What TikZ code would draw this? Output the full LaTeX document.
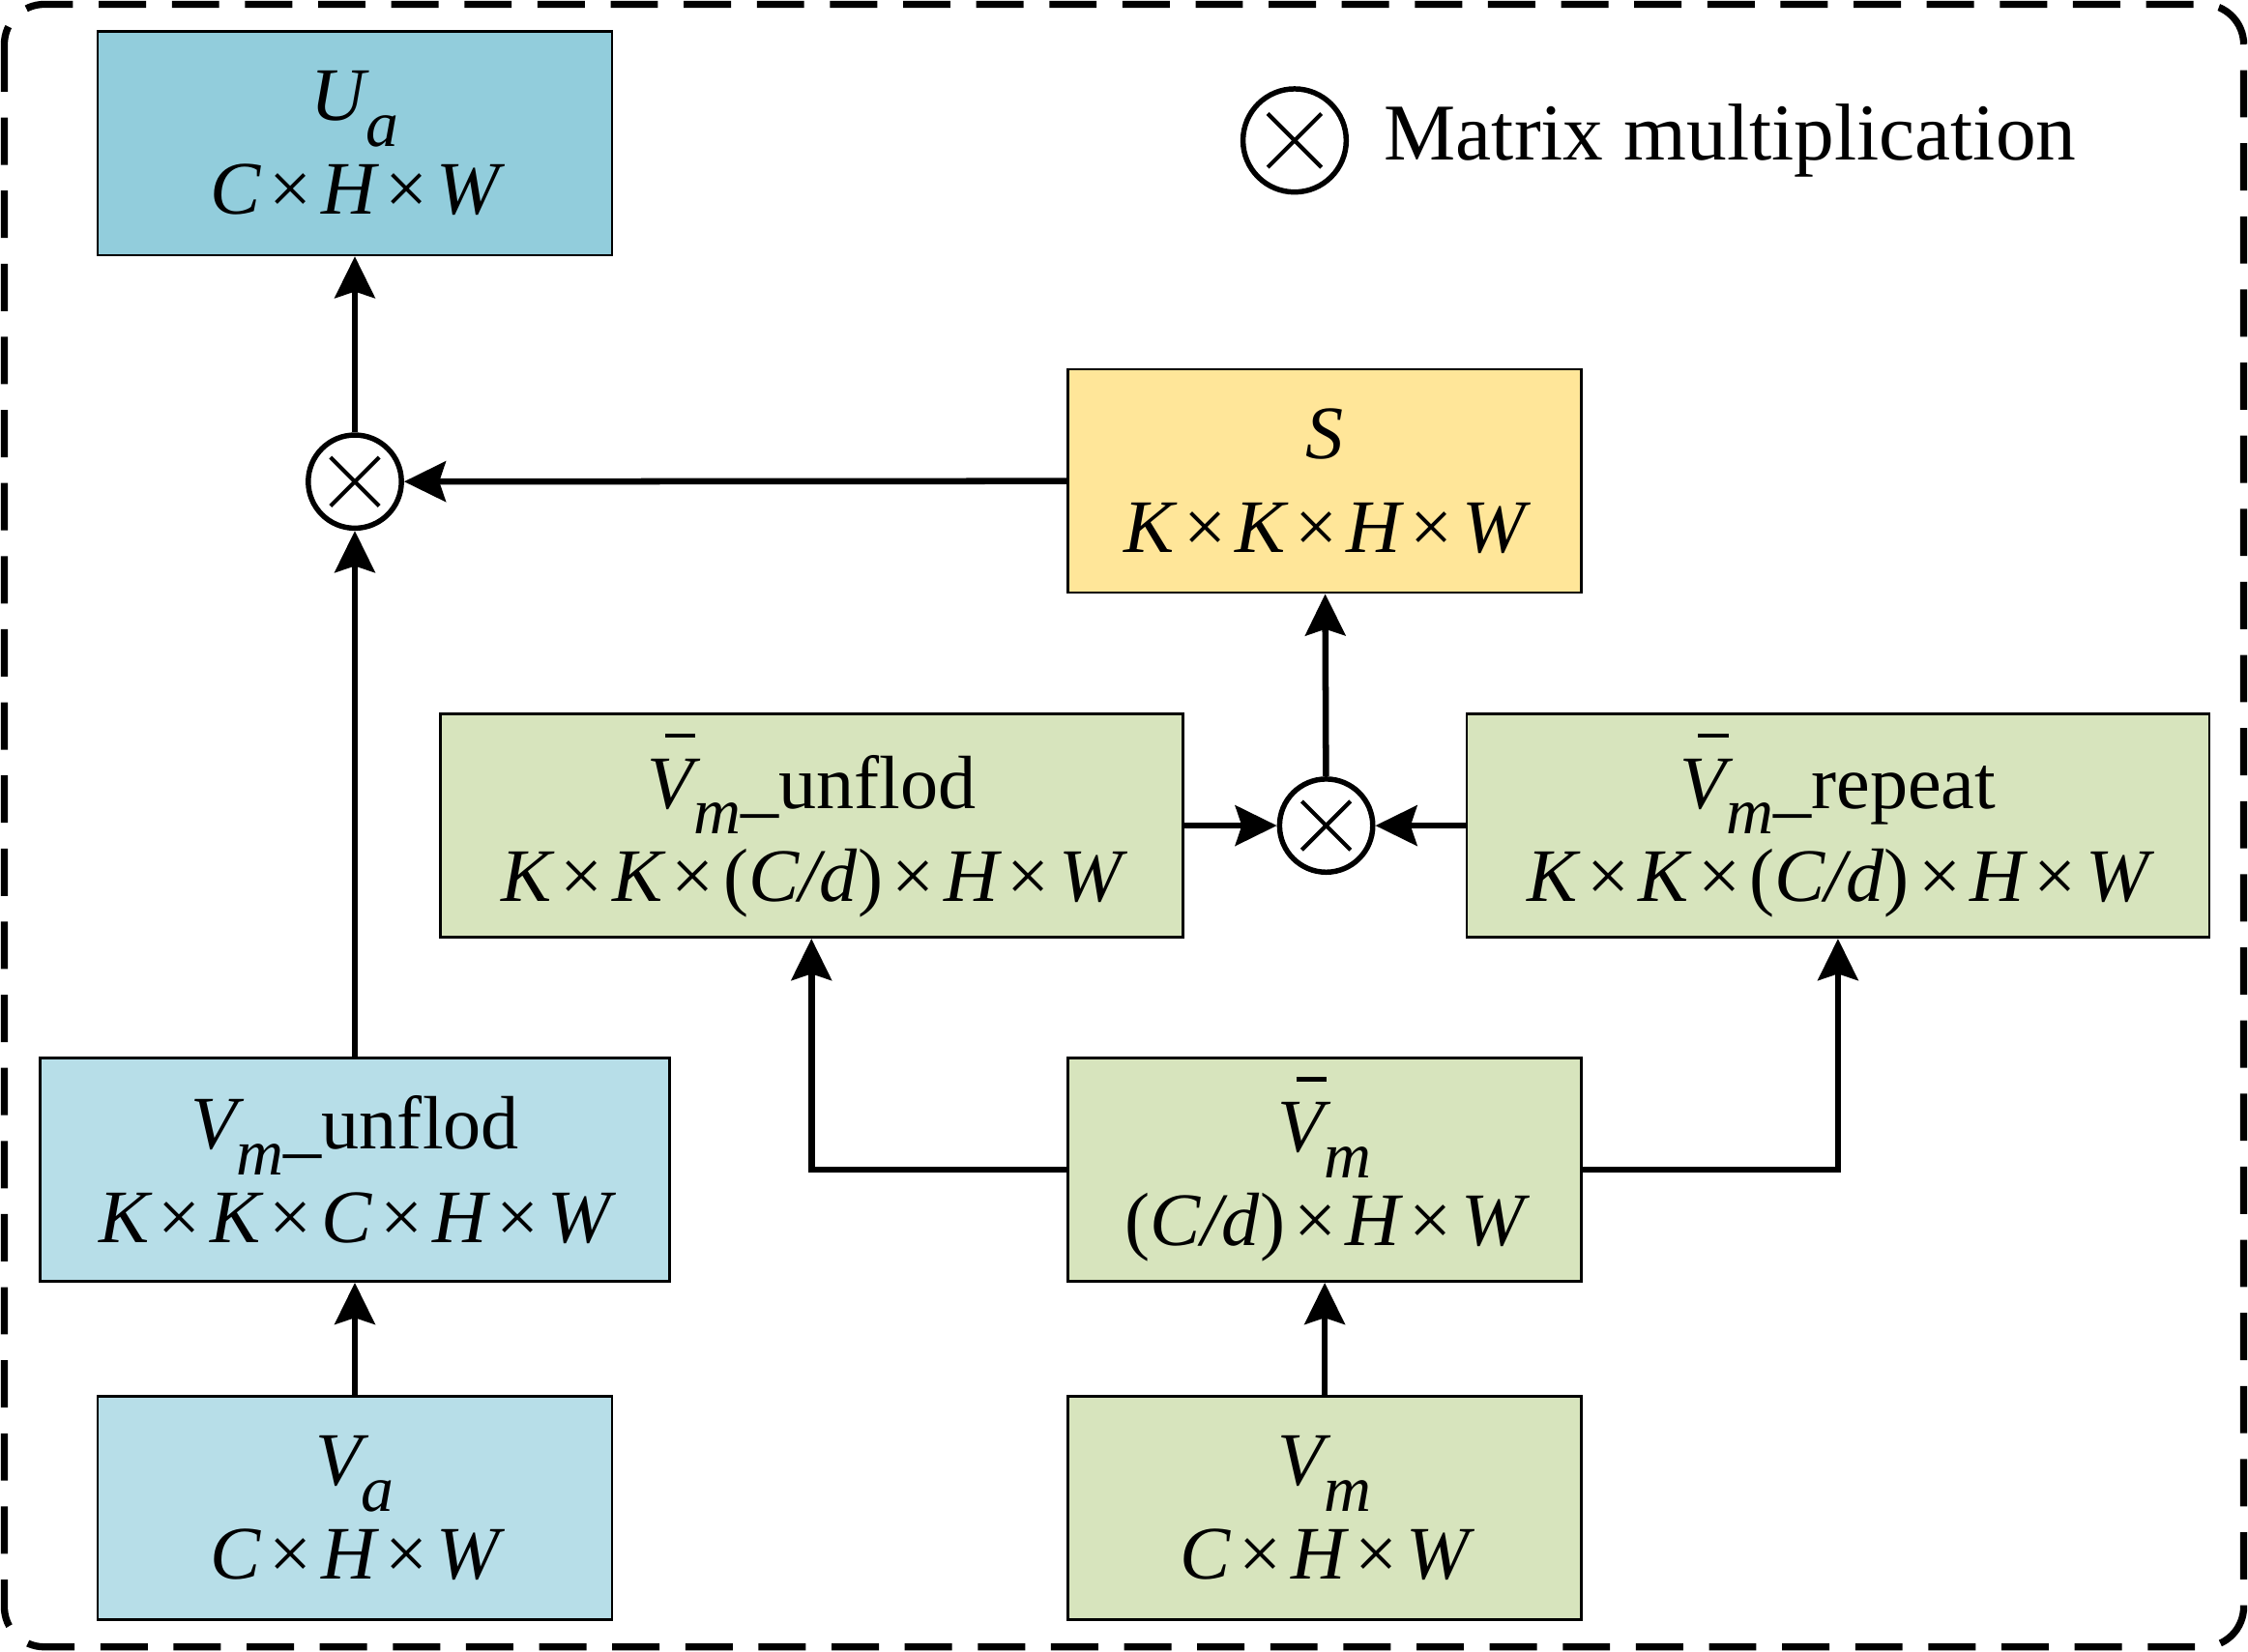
\documentclass[tikz,border=0pt]{standalone}
\usepackage{fontspec}
\setmainfont{Liberation Serif}
\usepackage{xcolor}
\usepackage{tikz}
\usetikzlibrary{arrows.meta, positioning, calc}

\definecolor{uablue}{HTML}{92CDDC}
\definecolor{vablue}{HTML}{B7DEE8}
\definecolor{sgold}{HTML}{FFE699}
\definecolor{vgreen}{HTML}{D7E4BD}

\newcommand\tms{\kern0.12em\textup{×}\kern0.12em}
\newcommand\sub[1]{\raisebox{-0.34em}{\fontsize{13}{13}\selectfont\itshape #1}}
\newcommand\vbar{\rlap{\kern0.24em\raisebox{0.93em}{\rule{0.4em}{0.06em}}}V}

\begin{document}
\begin{tikzpicture}[x=1mm, y=1mm,
  blk/.style={draw=black, line width=0.5pt, minimum height=15.6mm, align=center,
              inner sep=0pt, font=\fontsize{15}{18.6}\selectfont\itshape},
  ublk/.style={blk, fill=uablue, minimum width=35.9mm},
  ablk/.style={blk, fill=vablue, minimum width=35.9mm},
  sblk/.style={blk, fill=sgold, minimum width=35.8mm},
  gblk/.style={blk, fill=vgreen, minimum width=35.8mm},
  wblk/.style={blk, fill=vgreen, minimum width=51.8mm},
  mul/.style={circle, draw=black, line width=1.05pt, fill=white, minimum size=6.5mm, inner sep=0pt,
              path picture={\draw[line width=0.8pt]
                ($(path picture bounding box.center)+(45:#1)$) -- ($(path picture bounding box.center)+(225:#1)$)
                ($(path picture bounding box.center)+(135:#1)$) -- ($(path picture bounding box.center)+(315:#1)$);}},
  mul/.default=2.4mm,
  arr/.style={-{Stealth[length=2.9mm, width=2.8mm, inset=0.45mm]}, line width=1.25pt},
  outer/.style={line width=1.4pt, dash pattern=on 3.3mm off 1.8mm, rounded corners=2.8mm}
]
\useasboundingbox (0,0) rectangle (156.8,-115.2);
\draw[outer] (0.3,-0.3) rectangle (156.5,-114.9);

% left column
\node[ublk] (ua)  at (24.75,-10)   {U\sub{a}\\C\tms H\tms W};
\node[mul]  (ot1) at (24.75,-33.6) {};
\node[ablk, minimum width=43.9mm] (vmu) at (24.75,-81.6) {V\sub{m}\textup{\_unflod}\\K\tms K\tms C\tms H\tms W};
\node[ablk] (va)  at (24.75,-105.2) {V\sub{a}\\C\tms H\tms W};

% right part
\node[sblk] (s)   at (92.4,-33.55) {S\\K\tms K\tms H\tms W};
\node[mul]  (ot2) at (92.5,-57.6)  {};
\node[wblk] (vbu) at (56.6,-57.6)  {\vbar\sub{m}\textup{\_unflod}\\K\tms K\tms\textup{(}C/d\textup{)}\tms H\tms W};
\node[wblk] (vbr) at (128.2,-57.6) {\vbar\sub{m}\textup{\_repeat}\\K\tms K\tms\textup{(}C/d\textup{)}\tms H\tms W};
\node[gblk] (vb)  at (92.4,-81.6)  {\vbar\sub{m}\\\textup{(}C/d\textup{)}\tms H\tms W};
\node[gblk] (vm)  at (92.4,-105.2) {V\sub{m}\\C\tms H\tms W};

% legend
\node[mul=2.65mm, minimum size=7.2mm] (lg) at (90.3,-9.8) {};
\node[right=2.4mm of lg, inner sep=0pt, font=\fontsize{16}{16}\selectfont] (lgt) {Matrix multiplication};

\draw[arr] (va) -- (vmu);
\draw[arr] (vmu) -- (ot1);
\draw[arr] (ot1) -- (ua);
\draw[arr] (s) -- (ot1);
\draw[arr] (vm) -- (vb);
\draw[arr] (vb.west) -| (vbu.south);
\draw[arr] (vb.east) -| (vbr.south);
\draw[arr] (vbu) -- (ot2);
\draw[arr] (vbr) -- (ot2);
\draw[arr] (ot2) -- (s);
\end{tikzpicture}
\end{document}
